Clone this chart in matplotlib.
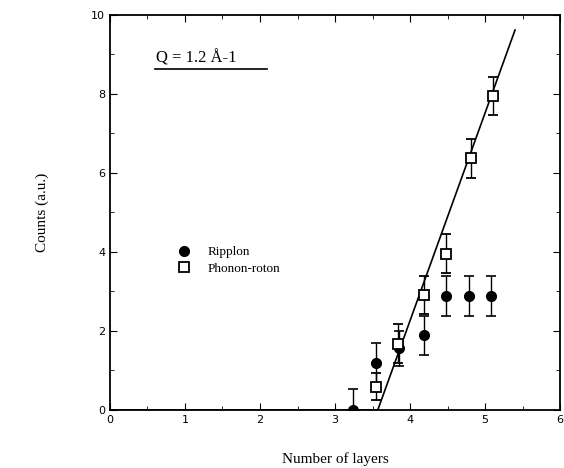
import numpy as np
import matplotlib.pyplot as plt
from matplotlib.ticker import MultipleLocator
from matplotlib.lines import Line2D

# Ripplon (filled circles)
rip_x = [3.24, 3.54, 3.85, 4.19, 4.48, 4.79, 5.08]
rip_y = [0.0, 1.18, 1.56, 1.89, 2.88, 2.88, 2.88]
rip_err = [0.52, 0.52, 0.45, 0.5, 0.5, 0.5, 0.5]

# Phonon-roton (open squares)
ph_x = [3.54, 3.84, 4.18, 4.48, 4.81, 5.10]
ph_y = [0.59, 1.68, 2.90, 3.96, 6.37, 7.96]
ph_err = [0.35, 0.5, 0.48, 0.5, 0.5, 0.48]

# linear fit through phonon-roton points
fit_x = [0.0, 3.57, 5.40]
fit_y = [0.0, 0.0, 9.62]

serif = ['Liberation Serif', 'DejaVu Serif']

fig = plt.figure(figsize=(5.64, 4.68), dpi=100)
ax = fig.add_axes([0.195, 0.124, 0.798, 0.844])

ax.plot(fit_x, fit_y, color='black', lw=1.2)
ax.errorbar(rip_x, rip_y, yerr=rip_err, fmt='o', color='black', ms=7,
            capsize=3.5, elinewidth=1, capthick=1.2, zorder=3)
ax.errorbar(ph_x, ph_y, yerr=ph_err, fmt='s', color='black', mfc='white',
            mec='black', mew=1.3, ms=7, capsize=3.5, elinewidth=1, capthick=1.2,
            zorder=4)

ax.set_xlim(0, 6)
ax.set_ylim(0, 10)
ax.xaxis.set_major_locator(MultipleLocator(1))
ax.xaxis.set_minor_locator(MultipleLocator(0.5))
ax.yaxis.set_major_locator(MultipleLocator(2))
ax.yaxis.set_minor_locator(MultipleLocator(1))
ax.tick_params(which='both', direction='in', top=True, right=True, labelsize=8)
ax.tick_params(which='major', length=5)
ax.tick_params(which='minor', length=3)
for s in ax.spines.values():
    s.set_linewidth(1.3)

ax.set_xlabel('Number of layers', fontsize=11, family=serif, labelpad=20)
ax.set_ylabel('Counts (a.u.)', fontsize=11, family=serif, labelpad=30)

ax.text(0.62, 8.8, 'Q = 1.2 Å-1', fontsize=12, family=serif)
ax.plot([0.60, 2.09], [8.62, 8.62], color='black', lw=1.2)

handles = [
    Line2D([], [], marker='o', ls='none', color='black', ms=7, label='Ripplon'),
    Line2D([], [], marker='s', ls='none', color='black', mfc='white', mew=1.3,
           ms=7, label='Phonon-roton'),
]
ax.legend(handles=handles, loc='upper left', bbox_to_anchor=(0.115, 0.445),
          frameon=False, handletextpad=1.1, labelspacing=0.3, handlelength=1.5,
          prop={'family': serif, 'size': 9.5})

plt.savefig('out.png', dpi=100)
